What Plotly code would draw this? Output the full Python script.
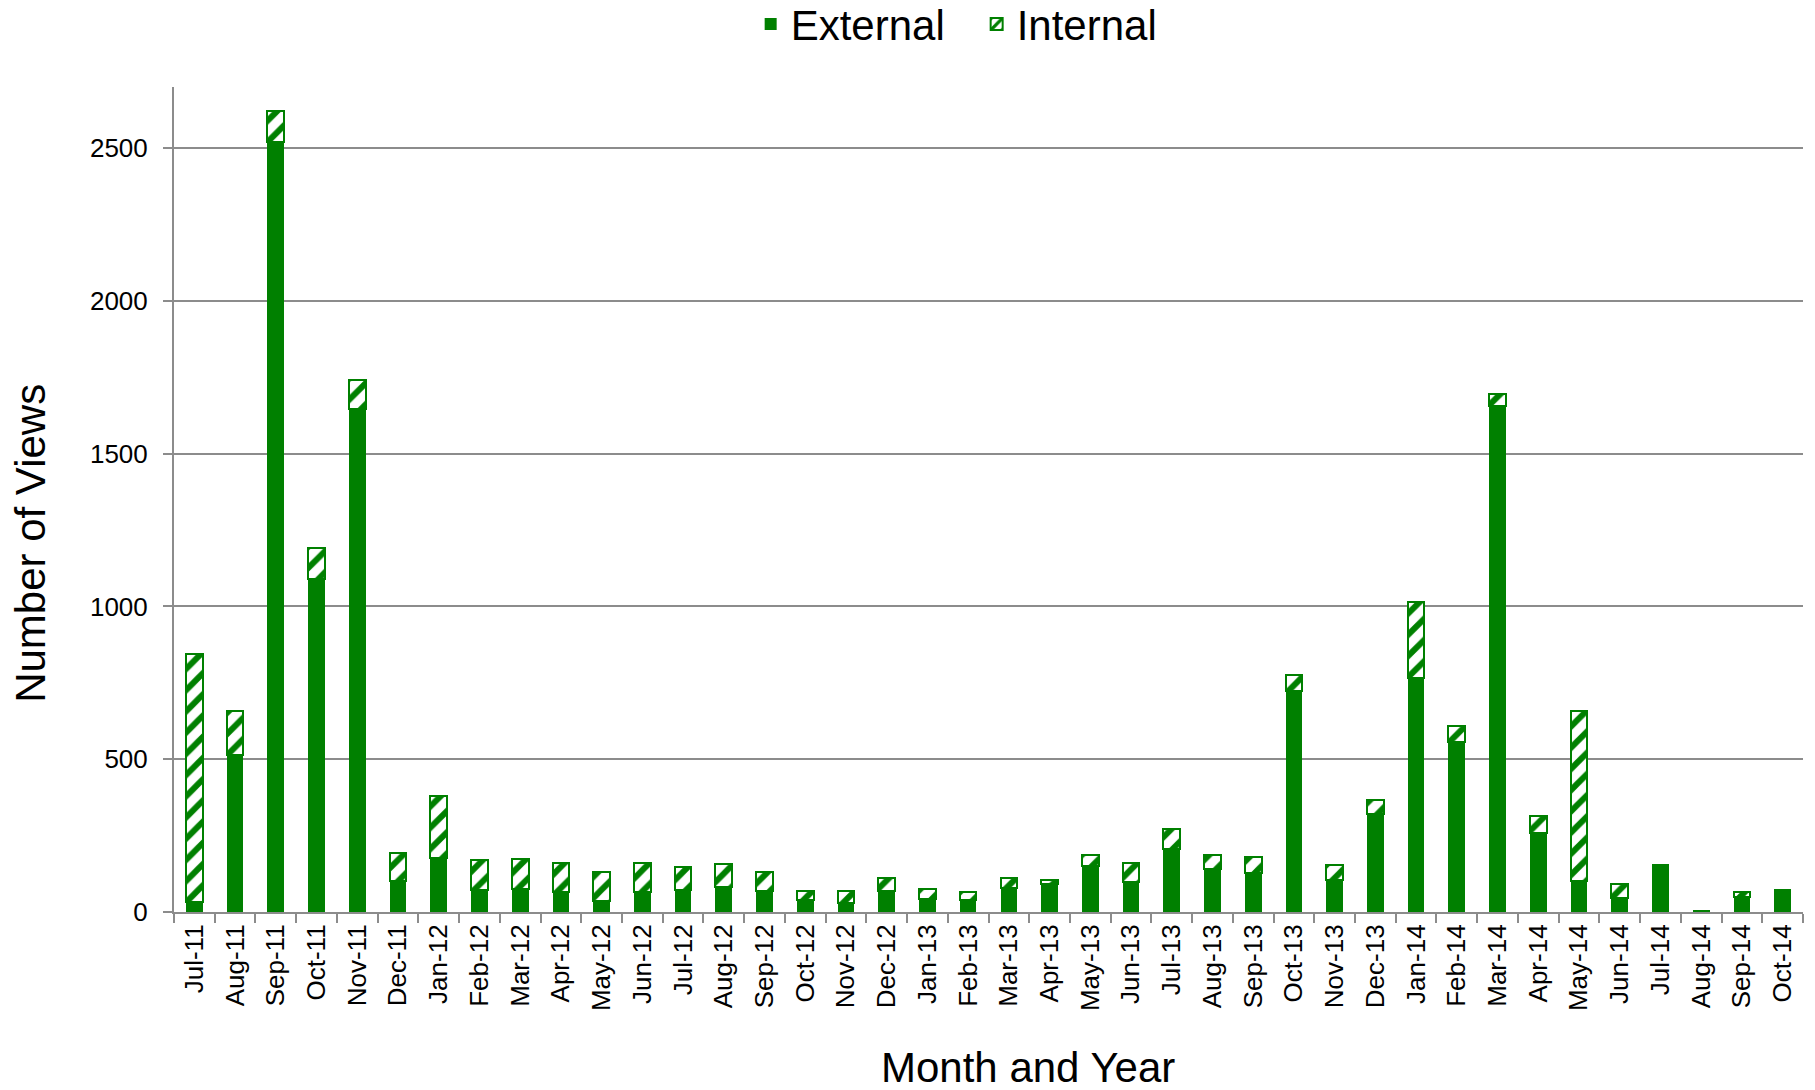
import plotly.graph_objects as go

# Monthly page views, split by traffic source
months = [
    "Jul-11", "Aug-11", "Sep-11", "Oct-11", "Nov-11", "Dec-11",
    "Jan-12", "Feb-12", "Mar-12", "Apr-12", "May-12", "Jun-12",
    "Jul-12", "Aug-12", "Sep-12", "Oct-12", "Nov-12", "Dec-12",
    "Jan-13", "Feb-13", "Mar-13", "Apr-13", "May-13", "Jun-13",
    "Jul-13", "Aug-13", "Sep-13", "Oct-13", "Nov-13", "Dec-13",
    "Jan-14", "Feb-14", "Mar-14", "Apr-14", "May-14", "Jun-14",
    "Jul-14", "Aug-14", "Sep-14", "Oct-14",
]
external = [
    32, 515, 2520, 1090, 1645, 103,
    178, 73, 75, 65, 36, 65,
    71, 82, 68, 39, 28, 69,
    43, 38, 79, 91, 152, 99,
    207, 140, 129, 724, 104, 322,
    766, 557, 1656, 260, 102, 47,
    153, 3, 49, 71,
]
internal = [
    813, 142, 100, 100, 95, 89,
    202, 96, 99, 94, 96, 95,
    77, 76, 64, 31, 40, 41,
    33, 29, 32, 15, 35, 63,
    66, 48, 51, 51, 51, 44,
    249, 53, 40, 54, 557, 44,
    0, 0, 16, 0,
]
y_ticks = [0, 500, 1000, 1500, 2000, 2500]

GREEN = "#008000"
GRID = "#8c8c8c"
FONT = "Arial, Liberation Sans, sans-serif"

fig = go.Figure()
fig.add_trace(go.Bar(
    name="External", x=months, y=external,
    marker=dict(color=GREEN, line=dict(width=0)),
))
fig.add_trace(go.Bar(
    name="Internal", x=months, y=internal,
    marker=dict(
        color="white",
        line=dict(color=GREEN, width=2),
        pattern=dict(shape="/", fgcolor=GREEN, bgcolor="white",
                     size=15, solidity=0.4, fillmode="replace"),
    ),
))

fig.update_layout(
    width=1815, height=1090,
    margin=dict(l=174, r=12, t=87, b=178, autoexpand=False),
    paper_bgcolor="white", plot_bgcolor="white",
    barmode="stack", bargap=0.59,
    font=dict(family=FONT, color="black"),
    showlegend=True,
    legend=dict(
        orientation="h", traceorder="normal",
        entrywidth=181, entrywidthmode="pixels",
        x=0.354, xanchor="left", y=1.076, yanchor="middle",
        font=dict(size=42, family=FONT, color="black"),
        bgcolor="rgba(0,0,0,0)",
    ),
    xaxis=dict(
        type="category", tickangle=-90,
        tickfont=dict(size=26, family=FONT, color="black"),
        ticks="outside", tickson="boundaries", ticklen=9,
        tickcolor=GRID, tickwidth=1.5,
        showline=True, linecolor=GRID, linewidth=2,
        showgrid=False, automargin=False,
    ),
    yaxis=dict(
        range=[0, 2700], tickvals=y_ticks,
        tickfont=dict(size=26, family=FONT, color="black"),
        ticks="outside", ticklen=9, tickcolor=GRID, tickwidth=1.5,
        ticklabelstandoff=10,
        showline=True, linecolor=GRID, linewidth=2,
        showgrid=True, gridcolor=GRID, gridwidth=1.5,
        zeroline=False, automargin=False,
    ),
    annotations=[
        dict(text="Month and Year", xref="paper", yref="paper",
             x=0.524, y=-0.188, xanchor="center", yanchor="middle",
             showarrow=False, font=dict(size=42, family=FONT, color="black")),
        dict(text="Number of Views", xref="paper", yref="paper",
             x=-0.088, y=0.447, xanchor="center", yanchor="middle",
             textangle=-90, showarrow=False,
             font=dict(size=42, family=FONT, color="black")),
    ],
)

fig.write_html("out.html")
